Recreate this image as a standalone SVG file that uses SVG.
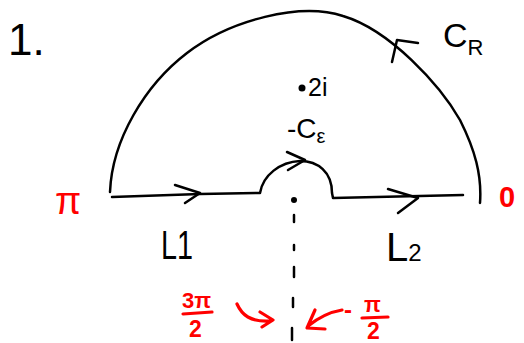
<svg xmlns="http://www.w3.org/2000/svg" width="524" height="343" viewBox="0 0 524 343">
<style>
.ink{fill:none;stroke:#000;stroke-width:2.5;stroke-linecap:round;stroke-linejoin:round}
.red{fill:none;stroke:#ff0000;stroke-width:3.2;stroke-linecap:round;stroke-linejoin:round}
.t{font-family:"Liberation Sans","DejaVu Sans",sans-serif;fill:#000}
.r{font-family:"Liberation Sans","DejaVu Sans",sans-serif;fill:#ff0000;font-weight:bold}
</style>
<rect width="524" height="343" fill="#fff"/>
<g id="connectors">
  <path class="ink" d="M110,192 C112,140 145,85 187,53 C230,20 300,2 343,16 C390,30 440,85 460,120 C475,150 482,175 480,203"/>
  <path class="ink" d="M392,62 L397,40 L418,43"/>
  <path class="ink" d="M112,197 L200,194 L260,193 C263,175 280,162 300,161 C318,161 332,172 332,193 L333,198 L463,195"/>
  <path class="ink" d="M175,185 L200,193 L185,203"/>
  <path class="ink" d="M287,152 L305,160 L288,170"/>
  <path class="ink" d="M388,189 L418,198 L398,213"/>
  <path class="ink" d="M294,215 V222 M294,245 V250 M294,267 V277 M293,298 V307 M292,328 V340"/>
  <path class="red" d="M237,304 C242,315 250,322 270,321 M260,312 L273,320 L262,327"/>
  <path class="red" d="M342,310 C330,312 318,318 308,326 M315,310 L307,328 L325,329"/>
</g>
<g id="title"><text class="t" x="8" y="55" font-size="44">1.</text></g>
<g id="CR"><text class="t" x="443" y="47" font-size="34">C<tspan font-size="22" dy="8">R</tspan></text></g>
<g id="pole2i"><circle cx="302" cy="88" r="3.5" fill="#000"/><text class="t" x="308" y="96" font-size="25">2i</text></g>
<g id="Ceps"><text class="t" x="287" y="138" font-size="28">-C<tspan font-size="20" dy="5">ε</tspan></text></g>
<g id="origin"><circle cx="294" cy="200" r="3" fill="#000"/></g>
<g id="piLabel"><text class="r" x="55" y="214" font-size="38" style="font-weight:normal">π</text></g>
<g id="zeroLabel"><text class="r" x="499" y="207" font-size="29">0</text></g>
<g id="L1"><text class="t" x="161" y="259" font-size="40" textLength="32" lengthAdjust="spacingAndGlyphs">L1</text></g>
<g id="L2"><text class="t" x="386" y="261" font-size="40">L<tspan font-size="24">2</tspan></text></g>
<g id="angle1">
  <text class="r" x="182" y="308" font-size="22">3π</text>
  <path class="red" d="M183,314 L212,312"/>
  <text class="r" x="189" y="337" font-size="23">2</text>
</g>
<g id="angle2">
  <text class="r" x="344" y="318" font-size="24">-</text>
  <text class="r" x="364" y="312" font-size="22">π</text>
  <path class="red" d="M362,318 L388,317"/>
  <text class="r" x="367" y="339" font-size="23">2</text>
</g>
</svg>
